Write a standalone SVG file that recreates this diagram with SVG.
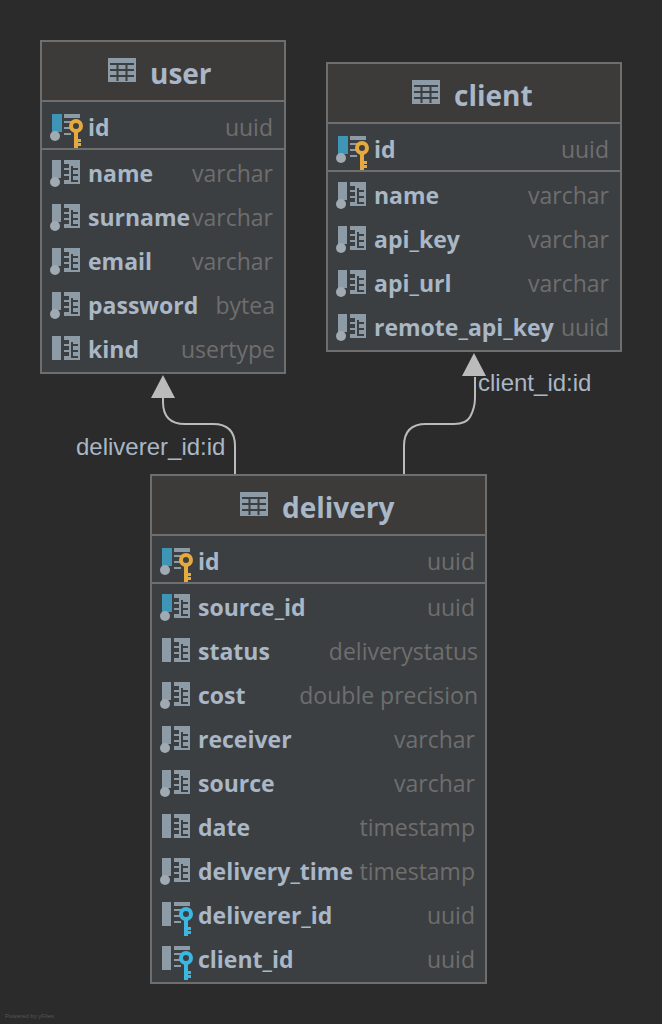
<svg xmlns="http://www.w3.org/2000/svg" xmlns:xlink="http://www.w3.org/1999/xlink" width="662" height="1024" viewBox="0 0 662 1024">
<style>
.box{fill:#3c3f41;stroke:#6e6e6e;stroke-width:2}
.head{fill:#3c3b3a}
.sep{stroke:#6e6e6e;stroke-width:2;fill:none}
.title{font:bold 28px "Open Sans",sans-serif;fill:#a9b7c6}
.name{font:bold 23px "Open Sans",sans-serif;fill:#a9b7c6}
.type{font:23px "Open Sans",sans-serif;fill:#6e6e6e;text-anchor:end}
.lab{font:24px "Liberation Sans",sans-serif;fill:#a9b7c6}
.edge{fill:none;stroke:#bbb;stroke-width:2}
.ico{fill:#8c9ba6}
.dot{fill:#a0aab2}
</style>
<defs>
<g id="tbl"><rect x="0" y="0" width="28" height="24" fill="#8c9ba6"/><path d="M2 6h24M2 12h24M2 18h24M9.500 6v17M18.500 6v17" stroke="#3c3f41" stroke-width="2" fill="none"/></g>
<g id="grid"><path d="M12 0h16v24h-16v-4h5v-4h-5v-2h5v-4h-5v-2h5v-4h-5zM19 8v2h7v-2zM19 14v2h7v-2zM19 20v2h7v-2z" class="ico"/><rect x="19" y="6" width="2" height="16" fill="#3c3f41"/></g>
<g id="col"><use href="#grid"/><rect x="0" y="0" width="9" height="18" class="ico"/><circle cx="3" cy="22" r="5" class="dot"/></g>
<g id="colb"><use href="#grid"/><rect x="0" y="0" width="10" height="18" fill="#3f95b6"/><circle cx="3" cy="22" r="5" class="dot"/></g>
<g id="plain"><use href="#grid"/><rect x="0" y="0" width="9" height="24" class="ico"/></g>
<g id="fk0"><path d="M12 0h16v4h-16zM12 7h7v2h-7zM12 13h7v2h-7zM12 19h7v2h-7z" class="ico"/></g>
<g id="key"><circle cx="24" cy="12" r="5" fill="none" stroke-width="4"/><path d="M22 16h4v18h-4zM26 25h3v3h-3zM26 29h3v3h-3z" stroke="none"/></g>
<g id="pk"><use href="#fk0"/><rect x="0" y="0" width="10" height="18" fill="#3f95b6"/><circle cx="3" cy="22" r="5" class="dot"/><use href="#key" fill="#e5a93d" stroke="#e5a93d"/></g>
<g id="fk"><use href="#fk0"/><rect x="0" y="0" width="9" height="24" class="ico"/><use href="#key" fill="#3bb7e3" stroke="#3bb7e3"/></g>
</defs>
<rect width="662" height="1024" fill="#2b2b2b"/>
<g id="connectors">
<path class="edge" d="M235 474V446Q235 424 213 424H185Q163 424 163 402V398"/>
<path class="edge" d="M404 474V446Q404 424 426 424H454Q466 424 470 417Q475 408 475 398V377"/>
<polygon points="163,375 175,398 151,398" fill="#bbb"/>
<polygon points="474,353 486,376 462,376" fill="#bbb"/>
</g>
<text class="lab" x="76" y="455">deliverer_id:id</text>
<text class="lab" x="478" y="391">client_id:id</text>
<g id="user">
<rect class="box" x="41" y="41" width="244" height="332"/>
<rect class="head" x="42" y="42" width="242" height="59"/>
<path class="sep" d="M41 101H285M41 149H285"/>
<use href="#tbl" x="108" y="58"/><text class="title" x="150" y="84">user</text>
<use href="#pk" x="52" y="114"/><text class="name" x="88" y="136">id</text><text class="type" x="273" y="136">uuid</text>
<use href="#col" x="52" y="160"/><text class="name" x="88" y="182">name</text><text class="type" x="273" y="182">varchar</text>
<use href="#col" x="52" y="204"/><text class="name" x="88" y="226">surname</text><text class="type" x="273" y="226">varchar</text>
<use href="#col" x="52" y="248"/><text class="name" x="88" y="270">email</text><text class="type" x="273" y="270">varchar</text>
<use href="#col" x="52" y="292"/><text class="name" x="88" y="314">password</text><text class="type" x="275" y="314">bytea</text>
<use href="#plain" x="52" y="336"/><text class="name" x="88" y="358">kind</text><text class="type" x="275" y="358">usertype</text>
</g>
<g id="client">
<rect class="box" x="327" y="63" width="294" height="288"/>
<rect class="head" x="328" y="64" width="292" height="59"/>
<path class="sep" d="M327 123H621M327 171H621"/>
<use href="#tbl" x="412" y="80"/><text class="title" x="454" y="106">client</text>
<use href="#pk" x="338" y="136"/><text class="name" x="374" y="158">id</text><text class="type" x="609" y="158">uuid</text>
<use href="#col" x="338" y="182"/><text class="name" x="374" y="204">name</text><text class="type" x="609" y="204">varchar</text>
<use href="#col" x="338" y="226"/><text class="name" x="374" y="248">api_key</text><text class="type" x="609" y="248">varchar</text>
<use href="#col" x="338" y="270"/><text class="name" x="374" y="292">api_url</text><text class="type" x="609" y="292">varchar</text>
<use href="#col" x="338" y="314"/><text class="name" x="374" y="336">remote_api_key</text><text class="type" x="609" y="336">uuid</text>
</g>
<g id="delivery">
<rect class="box" x="151" y="475" width="335" height="508"/>
<rect class="head" x="152" y="476" width="333" height="59"/>
<path class="sep" d="M151 535H486M151 583H486"/>
<use href="#tbl" x="240" y="492"/><text class="title" x="282" y="518">delivery</text>
<use href="#pk" x="162" y="548"/><text class="name" x="198" y="570">id</text><text class="type" x="475" y="570">uuid</text>
<use href="#colb" x="162" y="594"/><text class="name" x="198" y="616">source_id</text><text class="type" x="475" y="616">uuid</text>
<use href="#plain" x="162" y="638"/><text class="name" x="198" y="660">status</text><text class="type" x="478" y="660">deliverystatus</text>
<use href="#col" x="162" y="682"/><text class="name" x="198" y="704">cost</text><text class="type" x="478" y="704">double precision</text>
<use href="#col" x="162" y="726"/><text class="name" x="198" y="748">receiver</text><text class="type" x="475" y="748">varchar</text>
<use href="#col" x="162" y="770"/><text class="name" x="198" y="792">source</text><text class="type" x="475" y="792">varchar</text>
<use href="#plain" x="162" y="814"/><text class="name" x="198" y="836">date</text><text class="type" x="475" y="836">timestamp</text>
<use href="#col" x="162" y="858"/><text class="name" x="198" y="880">delivery_time</text><text class="type" x="475" y="880">timestamp</text>
<use href="#fk" x="162" y="902"/><text class="name" x="198" y="924">deliverer_id</text><text class="type" x="475" y="924">uuid</text>
<use href="#fk" x="162" y="946"/><text class="name" x="198" y="968">client_id</text><text class="type" x="475" y="968">uuid</text>
</g>
<text x="5" y="1018" font-family="Liberation Sans, sans-serif" font-size="6" fill="#555">Powered by yFiles</text>
</svg>
